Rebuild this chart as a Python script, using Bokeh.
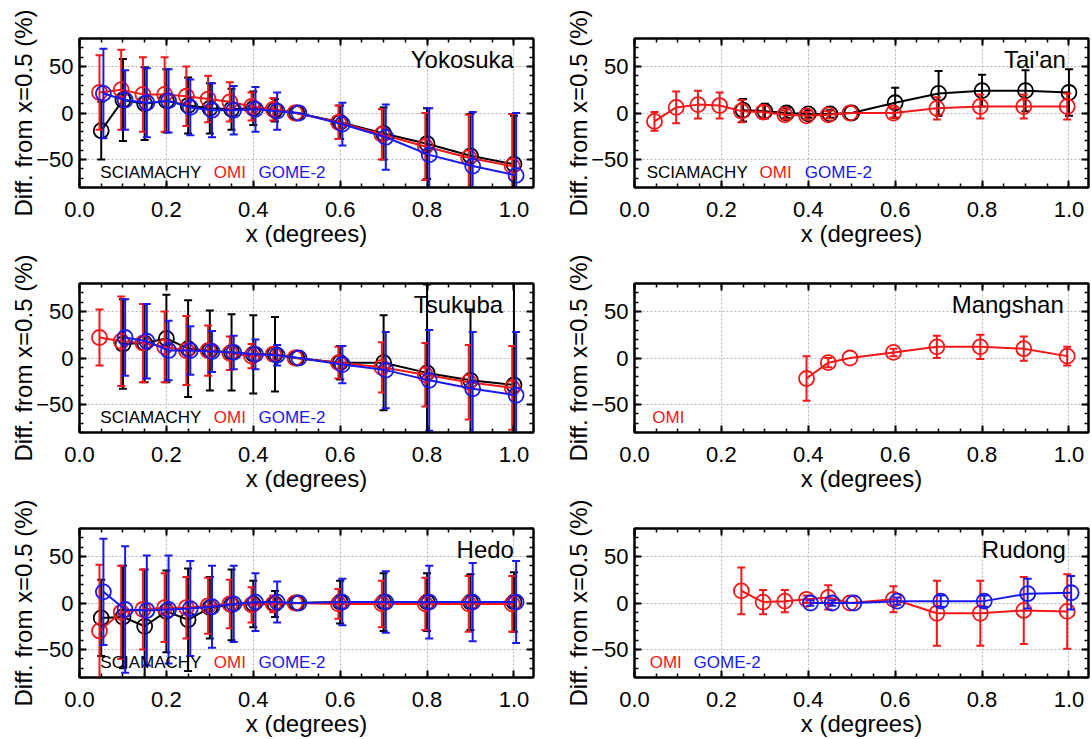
from bokeh.plotting import figure
from bokeh.models import (ColumnDataSource, FixedTicker, LinearAxis, Label, Range1d,
                          PrintfTickFormatter, CustomLabelingPolicy)
from bokeh.transform import dodge
from bokeh.layouts import column, row
from bokeh.embed import file_html
from bokeh.resources import INLINE

# ---------------- data ----------------
X_ALL = [0.05, 0.10, 0.15, 0.20, 0.25, 0.30, 0.35, 0.40, 0.45, 0.50, 0.60, 0.70, 0.80, 0.90, 1.00]
X_FROM_010 = [0.10, 0.15, 0.20, 0.25, 0.30, 0.35, 0.40, 0.45, 0.50, 0.60, 0.70, 0.80, 0.90, 1.00]
X_FROM_025 = [0.25, 0.30, 0.35, 0.40, 0.45, 0.50, 0.60, 0.70, 0.80, 0.90, 1.00]
X_FROM_040 = [0.40, 0.45, 0.50, 0.60, 0.70, 0.80, 0.90, 1.00]

# Yokosuka
yoko_scia_y = [-19, 14, 10, 13, 8, 5, 4, 5, 3, 0, -10, -22, -33, -46, -55]
yoko_scia_e = [31, 44, 39, 34, 30, 27, 22, 18, 12, 0, 18, 28, 38, 45, 52]
yoko_omi_y = [22, 25, 20, 20, 18, 15, 12, 7, 4, 0, -10, -23, -36, -48, -57]
yoko_omi_e = [40, 43, 40, 40, 32, 25, 21, 15, 12, 0, 18, 27, 36, 46, 56]
yoko_gome_y = [21, 14, 11, 13, 6, 3, 3, 4, 2, 0, -12, -26, -45, -57, -67]
yoko_gome_e = [48, 32, 37, 34, 30, 29, 26, 24, 20, 0, 23, 35, 50, 58, 67]

# Tai'an
taian_scia_y = [3, 2, 0, -1, -1, 0, 11, 21, 24, 24, 22]
taian_scia_e = [12, 8, 5, 4, 4, 0, 16, 24, 17, 22, 25]
taian_omi_y = [-9, 6, 9, 8, 2, 1, -2, -3, -2, 0, 0, 5, 7, 7, 7]
taian_omi_e = [10, 17, 15, 14, 12, 7, 5, 4, 4, 0, 5, 12, 13, 13, 14]

# Tsukuba
tsuk_scia_y = [15, 16, 21, 10, 8, 6, 4, 4, 0, -5, -5, -16, -24, -29]
tsuk_scia_e = [48, 42, 47, 52, 43, 41, 42, 40, 0, 18, 51, 95, 76, 110]
tsuk_omi_y = [22, 18, 16, 12, 8, 8, 5, 2, 4, 0, -5, -10, -18, -26, -32]
tsuk_omi_e = [30, 48, 42, 38, 37, 27, 18, 13, 7, 0, 17, 27, 34, 40, 45]
tsuk_gome_y = [22, 18, 8, 8, 7, 6, 4, 3, 0, -7, -13, -24, -33, -40]
tsuk_gome_e = [41, 40, 32, 26, 22, 18, 16, 11, 0, 20, 41, 54, 61, 68]

# Mangshan
mang_omi_y = [-22, -5, 0, 6, 12, 12, 10, 2]
mang_omi_e = [24, 5, 0, 4, 12, 13, 13, 10]

# Hedo
hedo_scia_y = [-16, -15, -25, -9, -18, -5, -2, -1, -1, 0, 1, 1, 1, 1, 1]
hedo_scia_e = [41, 55, 61, 44, 55, 33, 38, 25, 14, 0, 23, 31, 31, 30, 32]
hedo_omi_y = [-30, -10, -7, -5, -5, -3, -1, -2, -1, 0, -1, -1, -1, -1, -1]
hedo_omi_e = [71, 50, 43, 37, 33, 30, 26, 19, 9, 0, 16, 25, 28, 30, 30]
hedo_gome_y = [12, -7, -8, -7, -6, -4, -1, 1, 1, 0, 1, 1, 1, 1, 1]
hedo_gome_e = [57, 68, 59, 58, 51, 44, 41, 31, 22, 0, 25, 33, 39, 42, 44]

# Rudong
rud_omi_y = [13, 1, 2, 4, 6, 0, 4, -11, -11, -8, -9]
rud_omi_e = [25, 13, 12, 4, 13, 0, 14, 35, 35, 36, 40]
rud_gome_y = [0, 0, 0, 2, 2, 2, 10, 11]
rud_gome_e = [3, 3, 0, 4, 6, 6, 16, 18]

X_TICKS = [0.0, 0.2, 0.4, 0.6, 0.8, 1.0]
Y_TICKS = [-50, 0, 50]

# ---------------- style ----------------
FONT = "Liberation Sans"
COLORS = {"SCIAMACHY": "#000000", "OMI": "#f01818", "GOME-2": "#1818f0"}
OFFSETS = {"SCIAMACHY": 0.0, "OMI": -0.004, "GOME-2": 0.005}

FRAME_W = 454
FRAME_H = 149

NO_LABELS = CustomLabelingPolicy(code="""
for (const i of indices) { indices.unset(i) }
return indices
""")


def style_axis(ax, show_labels):
    ax.axis_line_width = 2
    ax.axis_line_color = "black"
    ax.major_tick_in = 7
    ax.major_tick_out = 0
    ax.minor_tick_in = 4
    ax.minor_tick_out = 0
    ax.major_tick_line_width = 2
    ax.minor_tick_line_width = 1.5
    ax.major_tick_line_color = "black"
    ax.minor_tick_line_color = "black"
    if show_labels:
        ax.major_label_text_font = FONT
        ax.major_label_text_font_size = "22px"
        ax.major_label_text_color = "black"
        ax.axis_label_text_font = FONT
        ax.axis_label_text_font_size = "24px"
        ax.axis_label_text_font_style = "normal"
        ax.axis_label_text_color = "black"
    else:
        ax.major_label_policy = NO_LABELS
        ax.major_label_standoff = 0


def make_panel(name, series, legend, name_x, col, rowi):
    b_left = 79 if col == 0 else 71
    b_right = 29 if col == 0 else 3
    b_top = 38 if rowi == 0 else 34
    p = figure(frame_width=FRAME_W, frame_height=FRAME_H,
               x_range=Range1d(0, 1.045), y_range=Range1d(-80, 80),
               output_backend="svg", toolbar_location=None,
               min_border_left=b_left, min_border_right=b_right,
               min_border_top=b_top, min_border_bottom=50,
               background_fill_color="white", border_fill_color="white",
               x_axis_label="x (degrees)", y_axis_label="Diff. from x=0.5 (%)")
    p.outline_line_color = "black"
    p.outline_line_width = 2
    p.outline_line_alpha = 1

    p.xaxis.ticker = FixedTicker(ticks=X_TICKS,
                                 minor_ticks=[i * 0.05 for i in range(21)])
    p.yaxis.ticker = FixedTicker(ticks=Y_TICKS,
                                 minor_ticks=list(range(-80, 81, 10)))
    p.xaxis.formatter = PrintfTickFormatter(format="%.1f")
    for ax in p.xaxis:
        style_axis(ax, True)
        ax.major_label_standoff = 14
        ax.axis_label_standoff = 0
    for ax in p.yaxis:
        style_axis(ax, True)
        ax.major_label_standoff = 6
        ax.axis_label_standoff = -4

    top = LinearAxis(ticker=FixedTicker(ticks=X_TICKS,
                                        minor_ticks=[i * 0.05 for i in range(21)]))
    style_axis(top, False)
    p.add_layout(top, "above")
    right = LinearAxis(ticker=FixedTicker(ticks=Y_TICKS,
                                          minor_ticks=list(range(-80, 81, 10))))
    style_axis(right, False)
    p.add_layout(right, "right")

    for g in (p.xgrid, p.ygrid):
        g.grid_line_color = "#b5b5b5"
        g.grid_line_dash = "2 2"
        g.grid_line_width = 1
    p.xgrid.ticker = FixedTicker(ticks=X_TICKS)
    p.ygrid.ticker = FixedTicker(ticks=Y_TICKS)

    for sensor, xs, ys, es in series:
        c = COLORS[sensor]
        off = OFFSETS[sensor]
        src = ColumnDataSource(dict(x=xs, y=ys))
        ex = [x for x, e in zip(xs, es) if e > 0]
        ey = [y for y, e in zip(ys, es) if e > 0]
        ee = [e for e in es if e > 0]
        esrc = ColumnDataSource(dict(x=ex,
                                     lo=[y - e for y, e in zip(ey, ee)],
                                     hi=[y + e for y, e in zip(ey, ee)]))
        xd = dodge("x", off, range=p.x_range)
        p.segment(x0=xd, y0="lo", x1=xd, y1="hi", source=esrc,
                  line_color=c, line_width=2)
        p.scatter(x=xd, y="lo", source=esrc, marker="dash", size=8,
                  line_color=c, line_width=2)
        p.scatter(x=xd, y="hi", source=esrc, marker="dash", size=8,
                  line_color=c, line_width=2)
        p.line(x=xd, y="y", source=src, line_color=c, line_width=2)
        p.scatter(x=xd, y="y", source=src, marker="circle", size=15,
                  fill_color=None, line_color=c, line_width=1.8)

    for txt, lx in legend:
        p.add_layout(Label(x=lx, y=-64, text=txt, text_color=COLORS[txt],
                           text_font=FONT, text_font_size="17px",
                           text_baseline="middle", text_align="left"))
    p.add_layout(Label(x=name_x, y=57, text=name, text_color="black",
                       text_font=FONT, text_font_size="24px",
                       text_baseline="middle", text_align="right"))
    return p


L1 = [("SCIAMACHY", 0.048), ("OMI", 0.309), ("GOME-2", 0.412)]
L2 = [("SCIAMACHY", 0.028), ("OMI", 0.288), ("GOME-2", 0.392)]

p1 = make_panel("Yokosuka",
                [("SCIAMACHY", X_ALL, yoko_scia_y, yoko_scia_e),
                 ("OMI", X_ALL, yoko_omi_y, yoko_omi_e),
                 ("GOME-2", X_ALL, yoko_gome_y, yoko_gome_e)],
                L1, 1.0, 0, 0)
p2 = make_panel("Tai'an",
                [("SCIAMACHY", X_FROM_025, taian_scia_y, taian_scia_e),
                 ("OMI", X_ALL, taian_omi_y, taian_omi_e)],
                L2, 0.993, 1, 0)
p3 = make_panel("Tsukuba",
                [("SCIAMACHY", X_FROM_010, tsuk_scia_y, tsuk_scia_e),
                 ("OMI", X_ALL, tsuk_omi_y, tsuk_omi_e),
                 ("GOME-2", X_FROM_010, tsuk_gome_y, tsuk_gome_e)],
                L1, 0.975, 0, 1)
p4 = make_panel("Mangshan",
                [("OMI", X_FROM_040, mang_omi_y, mang_omi_e)],
                [("OMI", 0.041)], 0.988, 1, 1)
p5 = make_panel("Hedo",
                [("SCIAMACHY", X_ALL, hedo_scia_y, hedo_scia_e),
                 ("OMI", X_ALL, hedo_omi_y, hedo_omi_e),
                 ("GOME-2", X_ALL, hedo_gome_y, hedo_gome_e)],
                L1, 1.0, 0, 2)
p6 = make_panel("Rudong",
                [("OMI", X_FROM_025, rud_omi_y, rud_omi_e),
                 ("GOME-2", X_FROM_040, rud_gome_y, rud_gome_e)],
                [("OMI", 0.035), ("GOME-2", 0.136)], 0.993, 1, 2)

layout = column(row(p1, p2), row(p3, p4), row(p5, p6))
open("out.html", "w").write(file_html(layout, INLINE))
